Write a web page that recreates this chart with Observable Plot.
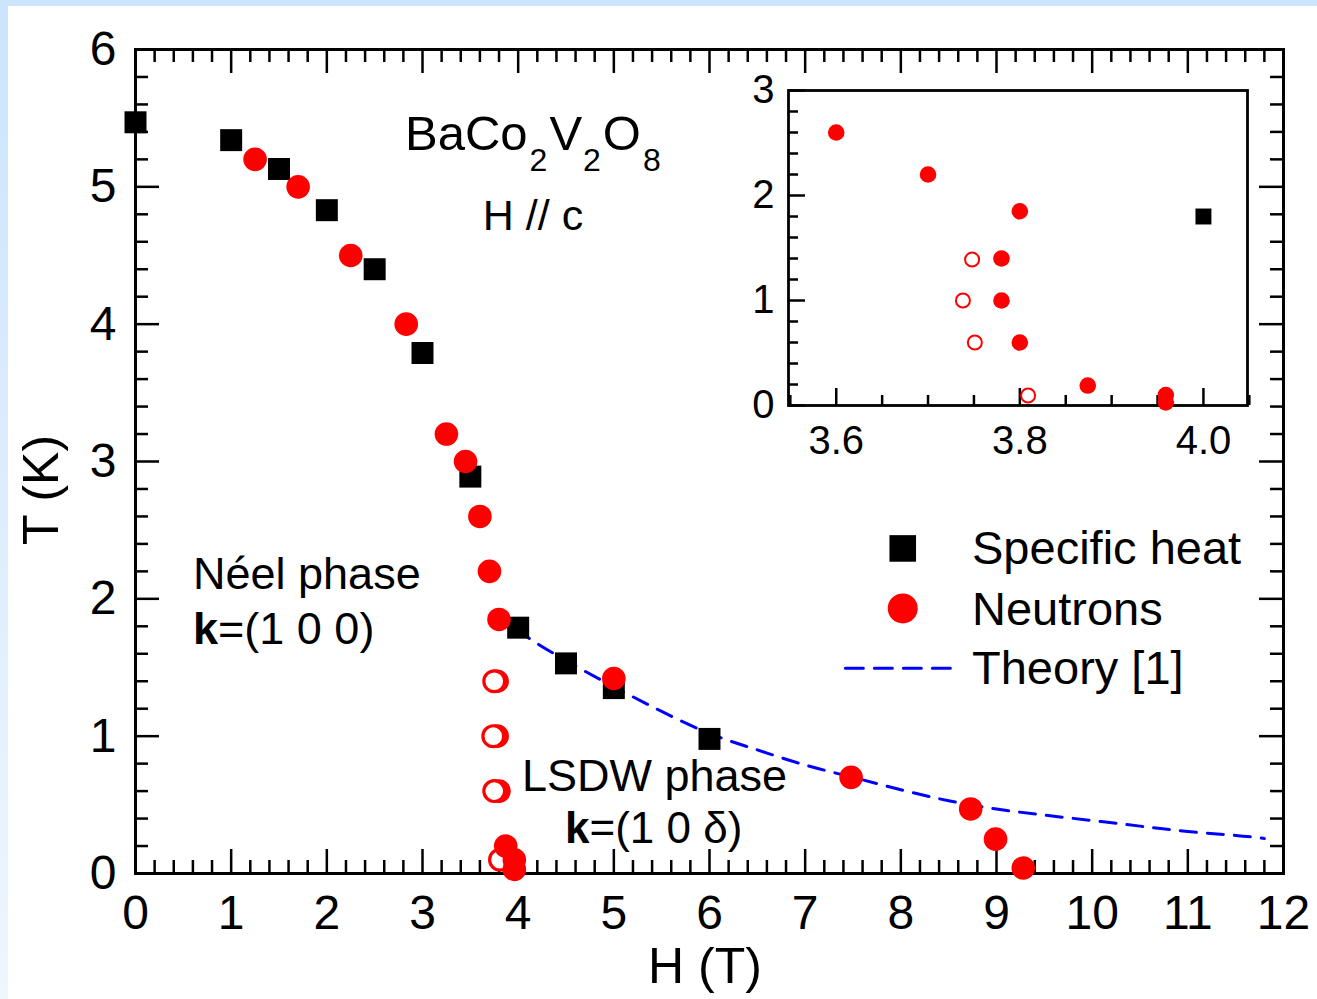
<!DOCTYPE html>
<html><head><meta charset="utf-8">
<script src="https://cdn.jsdelivr.net/npm/d3@7"></script>
<script src="https://cdn.jsdelivr.net/npm/@observablehq/plot@0.6"></script>
<style>
html,body{margin:0;padding:0;background:#fff;}
#wrap{position:relative;width:1317px;height:999px;overflow:hidden;background:#fff;font-family:"Liberation Sans",Arial,sans-serif;}
#stripTop{position:absolute;left:0;top:0;width:1317px;height:6px;background:#cce4fc;}
#stripLeft{position:absolute;left:0;top:0;width:8px;height:999px;background:linear-gradient(#cce4fc,#eef6fe);}
#wrap svg{position:absolute;}
</style></head><body><div id="wrap"><div id="stripTop"></div><div id="stripLeft"></div></div>
<script>
// ---------- data ----------
const heatH = [0.0, 1.0, 1.5, 2.0, 2.5, 3.0, 3.5, 4.0, 4.5, 5.0, 6.0];
const heatT = [5.47, 5.34, 5.13, 4.83, 4.40, 3.79, 2.89, 1.79, 1.53, 1.35, 0.98];

const neutronH = [1.25, 1.7, 2.25, 2.83, 3.25, 3.45, 3.6, 3.7, 3.8, 3.78, 3.78, 3.8, 5.0, 7.48, 8.73, 8.99, 9.28, 3.87, 3.96, 3.96];
const neutronT = [5.2, 5.0, 4.5, 4.0, 3.2, 3.0, 2.6, 2.2, 1.85, 1.4, 1.0, 0.6, 1.42, 0.70, 0.47, 0.25, 0.04, 0.2, 0.1, 0.03];

const neutronOpenH = [3.75, 3.74, 3.75, 3.81];
const neutronOpenT = [1.4, 1.0, 0.6, 0.1];

const theoryH = [4.0, 4.1, 4.5, 5.0, 5.5, 6.0, 6.5, 7.0, 7.5, 8.0, 8.5, 9.0, 9.5, 10.0, 10.5, 11.0, 11.5, 11.8];
const theoryT = [1.79, 1.72, 1.55, 1.36, 1.18, 1.02, 0.90, 0.79, 0.70, 0.61, 0.53, 0.47, 0.425, 0.386, 0.345, 0.306, 0.277, 0.255];

// inset data
const insetFilledH = [3.6, 3.7, 3.8, 3.78, 3.78, 3.8, 3.874, 3.959, 3.959];
const insetFilledT = [2.6, 2.2, 1.85, 1.4, 1.0, 0.6, 0.19, 0.1, 0.03];
const insetOpenH = [3.748, 3.738, 3.751, 3.809];
const insetOpenT = [1.39, 1.0, 0.6, 0.095];
const insetHeatH = [4.0];
const insetHeatT = [1.8];

// tick values / labels
const xTicks = [0, 1, 2, 3, 4, 5, 6, 7, 8, 9, 10, 11, 12];
const yTicks = [0, 1, 2, 3, 4, 5, 6];
const insetXTicks = [3.6, 3.8, 4.0];
const insetXLabels = ["3.6", "3.8", "4.0"];
const insetYTicks = [0, 1, 2, 3];

// legend entries
const legendLabels = ["Specific heat", "Neutrons", "Theory [1]"];

// ---------- tables ----------
const heat = heatH.map((h, i) => ({h, t: heatT[i]}));
const neutrons = neutronH.map((h, i) => ({h, t: neutronT[i]}));
const neutronsOpen = neutronOpenH.map((h, i) => ({h, t: neutronOpenT[i]}));
const theory = theoryH.map((h, i) => ({h, t: theoryT[i]}));
const inFilled = insetFilledH.map((h, i) => ({h, t: insetFilledT[i]}));
const inOpen = insetOpenH.map((h, i) => ({h, t: insetOpenT[i]}));
const inHeat = insetHeatH.map((h, i) => ({h, t: insetHeatT[i]}));

const FONT = "Liberation Sans, Arial, Helvetica, sans-serif";
const near = (v, s) => Math.abs(v / s - Math.round(v / s)) < 1e-6;

// ---------- main plot ----------
const W = 1317, H = 999, ML = 135, MR = 34, MT = 49, MB = 126;
const FW = W - ML - MR, FH = H - MT - MB;
const xMinor = d3.range(0, 12.0001, 0.2).filter(v => !near(v, 1));
const yMinor = d3.range(0, 6.0001, 0.2).filter(v => !near(v, 1));
const tk = {stroke: "black", strokeWidth: 2.5};
const isBottomCluster = d => d.t < 0.3 && d.h < 4.5;

// legend glyph positions in data units
const legX = 8.02;
const legendSquare = [{h: legX, t: 2.367}];
const legendCircle = [{h: legX, t: 1.93}];
const legendLine = [{h: 7.42, t: 1.495}, {h: 8.52, t: 1.495}];

const main = Plot.plot({
  width: W, height: H,
  marginLeft: ML, marginRight: MR, marginTop: MT, marginBottom: MB,
  style: {background: "transparent", fontFamily: FONT, overflow: "visible"},
  x: {domain: [0, 12], axis: null},
  y: {domain: [0, 6], axis: null},
  marks: [
    Plot.frame({stroke: "black", strokeWidth: 3}),
    // bottom / top ticks (inward)
    Plot.ruleX(xTicks, {x: d => d, insetTop: FH - 24, ...tk}),
    Plot.ruleX(xMinor, {x: d => d, insetTop: FH - 13, ...tk}),
    Plot.ruleX(xTicks, {x: d => d, insetBottom: FH - 24, ...tk}),
    Plot.ruleX(xMinor, {x: d => d, insetBottom: FH - 13, ...tk}),
    // left / right ticks (inward)
    Plot.ruleY(yTicks, {y: d => d, insetRight: FW - 24, ...tk}),
    Plot.ruleY(yMinor, {y: d => d, insetRight: FW - 13, ...tk}),
    Plot.ruleY(yTicks, {y: d => d, insetLeft: FW - 24, ...tk}),
    Plot.ruleY(yMinor, {y: d => d, insetLeft: FW - 13, ...tk}),
    // tick labels
    Plot.text(xTicks, {x: d => d, text: d => String(d), frameAnchor: "bottom", lineAnchor: "bottom", dy: 55, fontSize: 48, fill: "black"}),
    Plot.text(yTicks, {y: d => d, text: d => String(d), frameAnchor: "left", textAnchor: "end", dx: -19, fontSize: 48, fill: "black"}),
    // theory
    Plot.line(theory, {x: "h", y: "t", stroke: "#0000ff", strokeWidth: 3, strokeDasharray: "16,11", curve: "natural"}),
    // data
    Plot.dot(heat, {x: "h", y: "t", symbol: "square", r: 12.4, fill: "black", stroke: "none"}),
    Plot.dot(neutrons, {x: "h", y: "t", r: 11.8, fill: "#ff0000", stroke: "none", filter: d => !isBottomCluster(d)}),
    Plot.dot(neutronsOpen, {x: "h", y: "t", r: 10.4, fill: "white", stroke: "#ff0000", strokeWidth: 3.2}),
    Plot.dot(neutrons, {x: "h", y: "t", r: 11.8, fill: "#ff0000", stroke: "none", filter: isBottomCluster}),
    // legend glyphs
    Plot.dot(legendSquare, {x: "h", y: "t", symbol: "square", r: 15, fill: "black", stroke: "none"}),
    Plot.dot(legendCircle, {x: "h", y: "t", r: 15, fill: "#ff0000", stroke: "none"}),
    Plot.line(legendLine, {x: "h", y: "t", stroke: "#0000ff", strokeWidth: 3, strokeDasharray: "18,11"})
  ]
});
main.style.left = "0px"; main.style.top = "0px";
document.getElementById("wrap").appendChild(main);

// ---------- inset ----------
const IL = 700, IT = 60, IW = 580, IH = 420;
const iML = 88, iMR = 33, iMT = 30, iMB = 75;
const iFW = IW - iML - iMR, iFH = IH - iMT - iMB;
const ixMinor = d3.range(3.55, 4.0501, 0.05).filter(v => !insetXTicks.some(t => Math.abs(t - v) < 1e-6));
const iyMinor = d3.range(0, 3.0001, 0.2).filter(v => !near(v, 1));

const inset = Plot.plot({
  width: IW, height: IH,
  marginLeft: iML, marginRight: iMR, marginTop: iMT, marginBottom: iMB,
  style: {background: "transparent", fontFamily: FONT, overflow: "visible"},
  x: {domain: [3.548, 4.048], axis: null},
  y: {domain: [0, 3], axis: null},
  marks: [
    Plot.frame({stroke: "black", strokeWidth: 2.8}),
    Plot.ruleX(insetXTicks, {x: d => d, insetTop: iFH - 17, ...tk}),
    Plot.ruleX(ixMinor, {x: d => d, insetTop: iFH - 10, ...tk}),
    Plot.ruleY(insetYTicks, {y: d => d, insetRight: iFW - 17, ...tk}),
    Plot.ruleY(iyMinor, {y: d => d, insetRight: iFW - 10, ...tk}),
    Plot.text(insetXTicks, {x: d => d, text: (d, i) => insetXLabels[i], frameAnchor: "bottom", lineAnchor: "bottom", dy: 48, fontSize: 40, fill: "black"}),
    Plot.text(insetYTicks, {y: d => d, text: d => String(d), frameAnchor: "left", textAnchor: "end", dx: -14, fontSize: 40, fill: "black"}),
    Plot.dot(inHeat, {x: "h", y: "t", symbol: "square", r: 9, fill: "black", stroke: "none"}),
    Plot.dot(inOpen, {x: "h", y: "t", r: 7, fill: "none", stroke: "#ff0000", strokeWidth: 2}),
    Plot.dot(inFilled, {x: "h", y: "t", r: 8.3, fill: "#ff0000", stroke: "none"})
  ]
});
inset.style.left = IL + "px"; inset.style.top = IT + "px";
document.getElementById("wrap").appendChild(inset);

// ---------- text annotations ----------
const ov = d3.select("#wrap").append("svg")
  .attr("width", W).attr("height", H)
  .style("left", "0px").style("top", "0px")
  .attr("font-family", FONT).attr("fill", "black");
function txt(x, y, size, s, anchor = "start") {
  return ov.append("text").attr("x", x).attr("y", y).attr("font-size", size).attr("text-anchor", anchor).text(s);
}
// formula
const f = ov.append("text").attr("x", 405).attr("y", 150).attr("font-size", 49);
f.append("tspan").text("BaCo");
f.append("tspan").attr("font-size", 32).attr("dx", 2).attr("dy", 21).text("2");
f.append("tspan").attr("dx", 2).attr("dy", -21).text("V");
f.append("tspan").attr("font-size", 32).attr("dx", 1).attr("dy", 21).text("2");
f.append("tspan").attr("dx", 2).attr("dy", -21).text("O");
f.append("tspan").attr("font-size", 32).attr("dx", 2).attr("dy", 21).text("8");
txt(533, 230, 43, "H // c", "middle");

txt(193, 589, 45, "Néel phase");
const k1 = ov.append("text").attr("x", 193).attr("y", 644).attr("font-size", 45);
k1.append("tspan").attr("font-weight", "bold").text("k");
k1.append("tspan").text("=(1 0 0)");

txt(522, 791, 45, "LSDW phase");
const k2 = ov.append("text").attr("x", 565).attr("y", 843).attr("font-size", 44);
k2.append("tspan").attr("font-weight", "bold").text("k");
k2.append("tspan").text("=(1 0 δ)");

// legend labels
txt(972, 564, 47, legendLabels[0]);
txt(972, 625, 47, legendLabels[1]);
txt(972, 684, 47, legendLabels[2]);

// axis titles
txt(705, 983, 50, "H (T)", "middle");
ov.append("text").attr("transform", "translate(58,490) rotate(-90)")
  .attr("font-size", 50).attr("text-anchor", "middle").text("T (K)");
</script></body></html>
